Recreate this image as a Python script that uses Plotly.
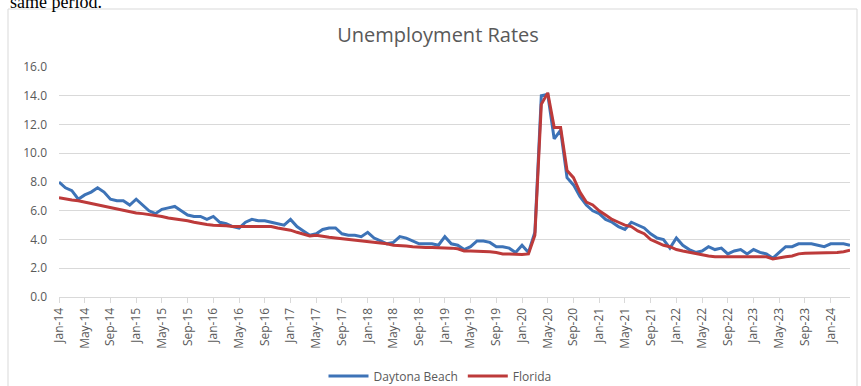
import plotly.graph_objects as go

month_names = ["Jan", "Feb", "Mar", "Apr", "May", "Jun", "Jul", "Aug", "Sep", "Oct", "Nov", "Dec"]
years = list(range(14, 25))
months = [f"{m}-{y:02d}" for y in years for m in month_names][:124]  # Jan-14 .. Apr-24

daytona_beach = [
    8.0, 7.6, 7.4, 6.8, 7.1, 7.3, 7.6, 7.3, 6.8, 6.7, 6.7, 6.4,   # 2014
    6.8, 6.4, 6.0, 5.8, 6.1, 6.2, 6.3, 6.0, 5.7, 5.6, 5.6, 5.4,   # 2015
    5.6, 5.2, 5.1, 4.9, 4.8, 5.2, 5.4, 5.3, 5.3, 5.2, 5.1, 5.0,   # 2016
    5.4, 4.9, 4.6, 4.3, 4.4, 4.7, 4.8, 4.8, 4.4, 4.3, 4.3, 4.2,   # 2017
    4.5, 4.1, 3.9, 3.7, 3.8, 4.2, 4.1, 3.9, 3.7, 3.7, 3.7, 3.6,   # 2018
    4.2, 3.7, 3.6, 3.3, 3.5, 3.9, 3.9, 3.8, 3.5, 3.5, 3.4, 3.1,   # 2019
    3.6, 3.1, 4.5, 14.0, 14.1, 11.0, 11.6, 8.3, 7.8, 7.0, 6.4, 6.0,  # 2020
    5.8, 5.4, 5.2, 4.9, 4.7, 5.2, 5.0, 4.8, 4.4, 4.1, 4.0, 3.4,   # 2021
    4.1, 3.6, 3.3, 3.1, 3.2, 3.5, 3.3, 3.4, 3.0, 3.2, 3.3, 3.0,   # 2022
    3.3, 3.1, 3.0, 2.7, 3.1, 3.5, 3.5, 3.7, 3.7, 3.7, 3.6, 3.5,   # 2023
    3.7, 3.7, 3.7, 3.6,                                           # 2024
]

florida = [
    6.9, 6.8, 6.75, 6.7, 6.6, 6.5, 6.4, 6.3, 6.2, 6.1, 6.0, 5.95,
    5.85, 5.8, 5.75, 5.7, 5.6, 5.5, 5.45, 5.35, 5.3, 5.2, 5.1, 5.05,
    5.0, 5.0, 4.95, 4.9, 4.9, 4.9, 4.9, 4.9, 4.9, 4.9, 4.8, 4.75,
    4.65, 4.5, 4.4, 4.25, 4.3, 4.2, 4.15, 4.1, 4.05, 4.05, 3.95, 3.9,
    3.85, 3.8, 3.75, 3.7, 3.6, 3.6, 3.55, 3.5, 3.45, 3.45, 3.45, 3.45,
    3.45, 3.4, 3.35, 3.2, 3.2, 3.2, 3.2, 3.15, 3.1, 3.0, 3.0, 2.95,
    2.95, 3.0, 4.3, 13.4, 14.2, 11.8, 11.8, 8.8, 8.3, 7.3, 6.6, 6.4,
    6.0, 5.7, 5.4, 5.2, 5.0, 4.9, 4.6, 4.4, 4.0, 3.8, 3.6, 3.5,
    3.3, 3.2, 3.1, 3.0, 2.9, 2.85, 2.8, 2.8, 2.8, 2.85, 2.85, 2.8,
    2.8, 2.8, 2.8, 2.65, 2.75, 2.8, 2.85, 3.0, 3.05, 3.05, 3.1, 3.1,
    3.1, 3.1, 3.15, 3.25,
]

tick_labels = months[::4]
y_ticks = [0, 2, 4, 6, 8, 10, 12, 14, 16]

BLUE = "#3d73b7"
RED = "#bd3a3a"
GREY_TXT = "#595959"
GRID = "#d9d9d9"

W, H = 861, 386
L, R, T, B = 59, 11, 67, 89
pw, ph = W - L - R, H - T - B

def px(xp):
    return (xp - L) / pw

def py(yp):
    return (H - B - yp) / ph

fig = go.Figure()
fig.add_trace(go.Scatter(x=months, y=daytona_beach, mode="lines", name="Daytona Beach",
                         line=dict(color=BLUE, width=3)))
fig.add_trace(go.Scatter(x=months, y=florida, mode="lines", name="Florida",
                         line=dict(color=RED, width=3)))

fig.update_layout(
    width=W, height=H,
    margin=dict(l=L, r=R, t=T, b=B, autoexpand=False),
    paper_bgcolor="white", plot_bgcolor="white",
    title=dict(text="Unemployment Rates", x=438 / W, xref="container", xanchor="center",
               y=1 - 35 / H, yref="container", yanchor="middle",
               font=dict(family="Open Sans", size=20, color=GREY_TXT)),
    xaxis=dict(type="category", range=[0, len(months) - 1], automargin=False,
               tickmode="array", tickvals=tick_labels, ticktext=tick_labels,
               tickangle=-90, tickfont=dict(family="Open Sans", size=12, color=GREY_TXT),
               showgrid=False, showline=True, linecolor=GRID, linewidth=1,
               ticks="outside", ticklen=5, tickcolor=GRID, zeroline=False),
    yaxis=dict(range=[0, 16], tickmode="array", tickvals=y_ticks, automargin=False,
               tickformat=".1f", tickfont=dict(family="Open Sans", size=12, color=GREY_TXT),
               showgrid=True, gridcolor=GRID, gridwidth=1, zeroline=False,
               showline=False, ticks="", ticklabelstandoff=11),
    legend=dict(orientation="h", x=440 / W, xref="container", xanchor="center",
                y=1 - 376 / H, yref="container", yanchor="middle",
                font=dict(family="Open Sans", size=12, color=GREY_TXT),
                bgcolor="rgba(0,0,0,0)", itemwidth=40),
    showlegend=True,
)

# chart border
fig.add_shape(type="rect", xref="paper", yref="paper",
              x0=px(8), x1=px(857), y0=py(392), y1=py(9),
              line=dict(color="#d9d9d9", width=1), fillcolor="rgba(0,0,0,0)", layer="below")

# document text above the chart, clipped at the top edge as in the reference
fig.add_annotation(text="same period.", xref="paper", yref="paper",
                   x=px(8), xanchor="left", y=py(2.5), yanchor="middle",
                   showarrow=False, font=dict(family="Liberation Serif", size=18, color="black"))

fig.write_html("out.html")
